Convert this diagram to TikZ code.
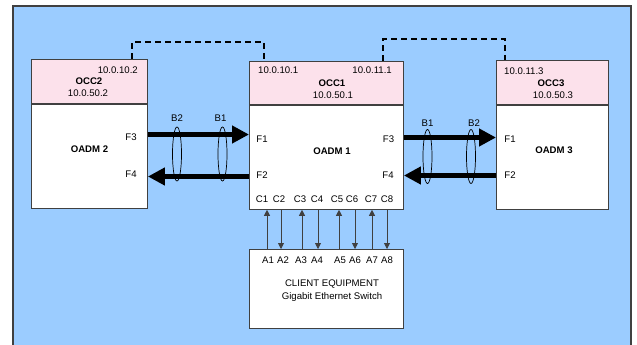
\documentclass[tikz,border=0pt]{standalone}
\usepackage{fontspec}
\setmainfont{Liberation Sans}
\usetikzlibrary{arrows.meta,positioning,shapes.geometric}
\definecolor{bgblue}{RGB}{155,204,255}
\definecolor{hdrpink}{RGB}{252,225,235}
\definecolor{edgegray}{RGB}{64,64,64}
\newcommand{\diafont}{\fontsize{9.6}{11.5}\selectfont}
\begin{document}
\begin{tikzpicture}[x=1pt, y=-1pt, font=\diafont,
  hdr/.style={draw=edgegray, line width=0.9pt, fill=hdrpink, anchor=north west, minimum height=44pt, inner sep=0pt},
  body/.style={draw=edgegray, line width=0.9pt, fill=white, anchor=north, minimum height=104pt, inner sep=0pt},
  lbl/.style={inner sep=0pt},
  bold/.style={inner sep=0pt, font=\diafont\bfseries},
  bundle/.style={draw, line width=0.7pt, ellipse, minimum width=9pt, minimum height=54pt, inner sep=0pt},
  fat/.style={line width=5pt, -{Triangle[length=17pt,width=17pt]}},
  port/.style={draw=edgegray, line width=0.8pt, -{Triangle[length=6pt,width=6pt]}},
  link/.style={line width=1.8pt, dash pattern=on 6pt off 4pt}]
\useasboundingbox (0,0) rectangle (637,345);
% background
\fill[bgblue] (13,6) rectangle (631,352);
\draw[edgegray, line width=1.2pt] (13,352) -- (13,6) -- (631,6) -- (631,352);

% boxes
\node[hdr, minimum width=116pt] (occ2) at (31,59) {};
\node[body, minimum width=116pt] (oadm2) at (occ2.south) {};
\node[hdr, minimum width=154pt, minimum height=43pt] (occ1) at (249,61) {};
\node[body, minimum width=154pt] (oadm1) at (occ1.south) {};
\node[hdr, minimum width=112pt] (occ3) at (496,60) {};
\node[body, minimum width=112pt] (oadm3) at (occ3.south) {};
\node[draw=edgegray, line width=0.9pt, fill=white, anchor=north west, minimum width=154pt, minimum height=79pt, inner sep=0pt] (client) at (249,249) {};

% control links
\draw[link] (occ2.north -| 132,0) -- ++(0,-17) -| (occ1.north -| 264,0);
\draw[link] (occ1.north -| 383,0) -- ++(0,-22) -| (occ3.north -| 505,0);

% header texts
\node[lbl, anchor=east] (ip2a) at (138,70) {10.0.10.2};
\node[bold] (occ2t) at (89,81) {OCC2};
\node[lbl] (ip2b) at (88,93) {10.0.50.2};
\node[lbl, anchor=west] (ip1a) at (258,70.5) {10.0.10.1};
\node[lbl, anchor=east] (ip1c) at (392,70.5) {10.0.11.1};
\node[bold] (occ1t) at (332,83) {OCC1};
\node[lbl] (ip1b) at (333,95) {10.0.50.1};
\node[lbl, anchor=west] (ip3a) at (504,71) {10.0.11.3};
\node[bold] (occ3t) at (551,83) {OCC3};
\node[lbl] (ip3b) at (553,95) {10.0.50.3};

% body texts
\node[bold] (oadm2t) at (89.5,149.5) {OADM 2};
\node[lbl] (f3l) at (131,137) {F3};
\node[lbl] (f4l) at (131,174) {F4};
\node[bold] (oadm1t) at (332,151.5) {OADM 1};
\node[lbl] (f1m) at (262,139.5) {F1};
\node[lbl] (f2m) at (262,175.5) {F2};
\node[lbl] (f3m) at (388.5,139) {F3};
\node[lbl] (f4m) at (388,175.5) {F4};
\node[bold] (oadm3t) at (554,150.5) {OADM 3};
\node[lbl] (f1r) at (510,139) {F1};
\node[lbl] (f2r) at (510,175) {F2};

% fibre pairs
\draw[fat] (oadm2.east |- 0,134.5) -- (oadm1.west |- 0,134.5);
\draw[fat] (oadm1.west |- 0,176.5) -- (oadm2.east |- 0,176.5);
\draw[fat] (oadm1.east |- 0,137.5) -- (oadm3.west |- 0,137.5);
\draw[fat] (oadm3.west |- 0,175.5) -- (oadm1.east |- 0,175.5);

% bundles
\node[bundle] (b2l) at (177,154) {};
\node[bundle] (b1l) at (222.5,154) {};
\node[bundle] (b1r) at (427.5,156.5) {};
\node[bundle] (b2r) at (471,156.5) {};
\node[lbl, above=5pt of b2l] (b2lt) {B2};
\node[lbl, above=5pt of b1l, xshift=-2pt] (b1lt) {B1};
\node[lbl, above=2pt of b1r] (b1rt) {B1};
\node[lbl, above=2pt of b2r, xshift=3pt] (b2rt) {B2};

% client ports
\foreach \x/\n in {262/1,279/2,300/3,317/4,337/5,352/6,371/7,387/8}
  \node[lbl] (c\n) at (\x,199.5) {C\n};
\foreach \x/\n in {268/1,283/2,301/3,317/4,340/5,355/6,372/7,387/8}
  \node[lbl] (a\n) at (\x,260) {A\n};
\foreach \x in {267,302,339,372}
  \draw[port] (client.north -| \x,0) -- (oadm1.south -| \x,0);
\foreach \x in {281,318,355,387}
  \draw[port] (oadm1.south -| \x,0) -- (client.north -| \x,0);
\node[lbl, align=center, font=\fontsize{9.6}{13}\selectfont] (clientt) at (332,290.5) {CLIENT EQUIPMENT\\Gigabit Ethernet Switch};
\end{tikzpicture}
\end{document}
